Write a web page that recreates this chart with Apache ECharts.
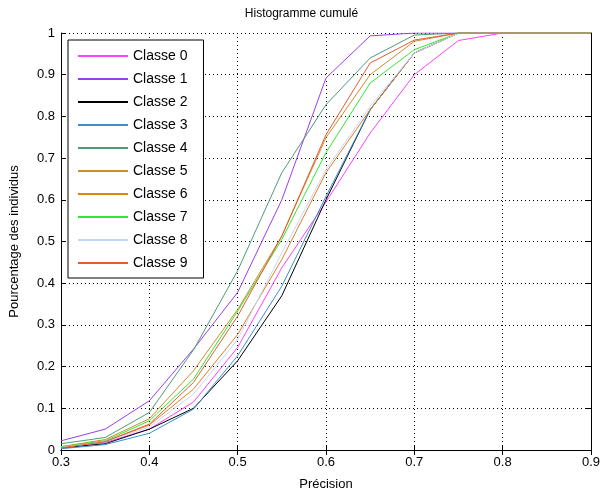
<!DOCTYPE html>
<html>
<head>
<meta charset="utf-8">
<script src="https://cdn.jsdelivr.net/npm/echarts@6/dist/echarts.min.js"></script>
<style>
    html, body { margin: 0; padding: 0; background: #fff; }
    #chart { width: 603px; height: 496px; }
</style>
</head>
<body>
<div id="chart"></div>
<script>
// abscisses (précision)
var precision = [0.3, 0.35, 0.4, 0.45, 0.5, 0.55, 0.6, 0.65, 0.7, 0.75, 0.8, 0.85, 0.9];

var classe0 = [0.005, 0.018, 0.05, 0.115, 0.246, 0.437, 0.595, 0.76, 0.9, 0.982, 1, 1, 1];
var classe1 = [0.022, 0.05, 0.118, 0.242, 0.378, 0.6, 0.892, 0.993, 1, 1, 1, 1, 1];
var classe2 = [0.005, 0.015, 0.05, 0.1, 0.214, 0.37, 0.6, 0.816, 0.952, 1, 1, 1, 1];
var classe3 = [0.003, 0.013, 0.04, 0.098, 0.226, 0.393, 0.608, 0.816, 0.952, 1, 1, 1, 1];
var classe4 = [0.015, 0.03, 0.09, 0.24, 0.43, 0.665, 0.828, 0.94, 0.995, 1, 1, 1, 1];
var classe5 = [0.008, 0.025, 0.075, 0.19, 0.337, 0.513, 0.749, 0.9, 0.98, 1, 1, 1, 1];
var classe6 = [0.006, 0.02, 0.06, 0.146, 0.277, 0.457, 0.665, 0.816, 0.952, 1, 1, 1, 1];
var classe7 = [0.008, 0.022, 0.07, 0.17, 0.333, 0.505, 0.713, 0.88, 0.96, 1, 1, 1, 1];
var classe8 = [0.006, 0.02, 0.055, 0.134, 0.265, 0.473, 0.672, 0.824, 0.952, 1, 1, 1, 1];
var classe9 = [0.005, 0.02, 0.062, 0.162, 0.321, 0.513, 0.756, 0.928, 0.983, 1, 1, 1, 1];

var noms = ['Classe 0', 'Classe 1', 'Classe 2', 'Classe 3', 'Classe 4',
            'Classe 5', 'Classe 6', 'Classe 7', 'Classe 8', 'Classe 9'];
var valeurs = [classe0, classe1, classe2, classe3, classe4, classe5, classe6, classe7, classe8, classe9];
var couleurs = ['#ff40ff', '#9a3cf0', '#000000', '#3a8fd0', '#4e9a78',
                '#c8902c', '#e0801c', '#30e830', '#c4d6ff', '#e85a30'];

var police = 'Liberation Sans, Arial, sans-serif';

var series = noms.map(function (nom, i) {
    return {
        name: nom,
        type: 'line',
        symbol: 'none',
        xAxisIndex: 0,
        yAxisIndex: 0,
        color: couleurs[i],
        lineStyle: { width: 1, color: couleurs[i] },
        data: precision.map(function (x, k) { return [x, valeurs[i][k]]; })
    };
});

var fmt = function (v) { return String(+v.toFixed(1)); };

var chart = echarts.init(document.getElementById('chart'));
chart.setOption({
    animation: false,
    backgroundColor: '#fff',
    title: {
        text: 'Histogramme cumulé',
        left: 'center',
        top: 3,
        textStyle: { fontFamily: police, fontSize: 12, fontWeight: 'normal', color: '#000' }
    },
    grid: { left: 60, right: 11, top: 33, bottom: 45 },
    legend: {
        orient: 'vertical',
        left: 68,
        top: 40,
        padding: [9, 16, 8, 10],
        itemGap: 9,
        itemWidth: 50,
        itemHeight: 2,
        icon: 'rect',
        borderColor: '#000',
        borderWidth: 1,
        backgroundColor: '#fff',
        textStyle: { fontFamily: police, fontSize: 14, color: '#000', lineHeight: 14, padding: [0, 0, 0, 0] },
        data: noms
    },
    xAxis: [{
        type: 'value',
        min: 0.3,
        max: 0.9,
        interval: 0.1,
        name: 'Précision',
        nameLocation: 'middle',
        nameGap: 28,
        nameTextStyle: { fontFamily: police, fontSize: 13, color: '#000' },
        axisLine: { lineStyle: { color: '#000', width: 1 } },
        axisTick: { inside: true, length: 5, lineStyle: { color: '#000' } },
        axisLabel: { fontFamily: police, fontSize: 13, color: '#000', margin: 6, formatter: fmt },
        splitLine: { show: true, lineStyle: { color: '#000', type: [1, 3], width: 1 } }
    }, {
        type: 'value',
        position: 'top',
        min: 0.3,
        max: 0.9,
        interval: 0.1,
        axisLine: { lineStyle: { color: '#000', width: 1 } },
        axisTick: { inside: true, length: 5, lineStyle: { color: '#000' } },
        axisLabel: { show: false },
        splitLine: { show: false }
    }],
    yAxis: [{
        type: 'value',
        min: 0,
        max: 1,
        interval: 0.1,
        name: 'Pourcentage des individus',
        nameLocation: 'middle',
        nameGap: 40,
        nameTextStyle: { fontFamily: police, fontSize: 13, color: '#000' },
        axisLine: { show: true, lineStyle: { color: '#000', width: 1 } },
        axisTick: { show: true, inside: true, length: 5, lineStyle: { color: '#000' } },
        axisLabel: { fontFamily: police, fontSize: 13, color: '#000', margin: 6, formatter: fmt },
        splitLine: { show: true, lineStyle: { color: '#000', type: [1, 3], width: 1 } }
    }, {
        type: 'value',
        position: 'right',
        min: 0,
        max: 1,
        interval: 0.1,
        axisLine: { show: true, lineStyle: { color: '#000', width: 1 } },
        axisTick: { show: true, inside: true, length: 5, lineStyle: { color: '#000' } },
        axisLabel: { show: false },
        splitLine: { show: false }
    }],
    series: series
});
</script>
</body>
</html>
